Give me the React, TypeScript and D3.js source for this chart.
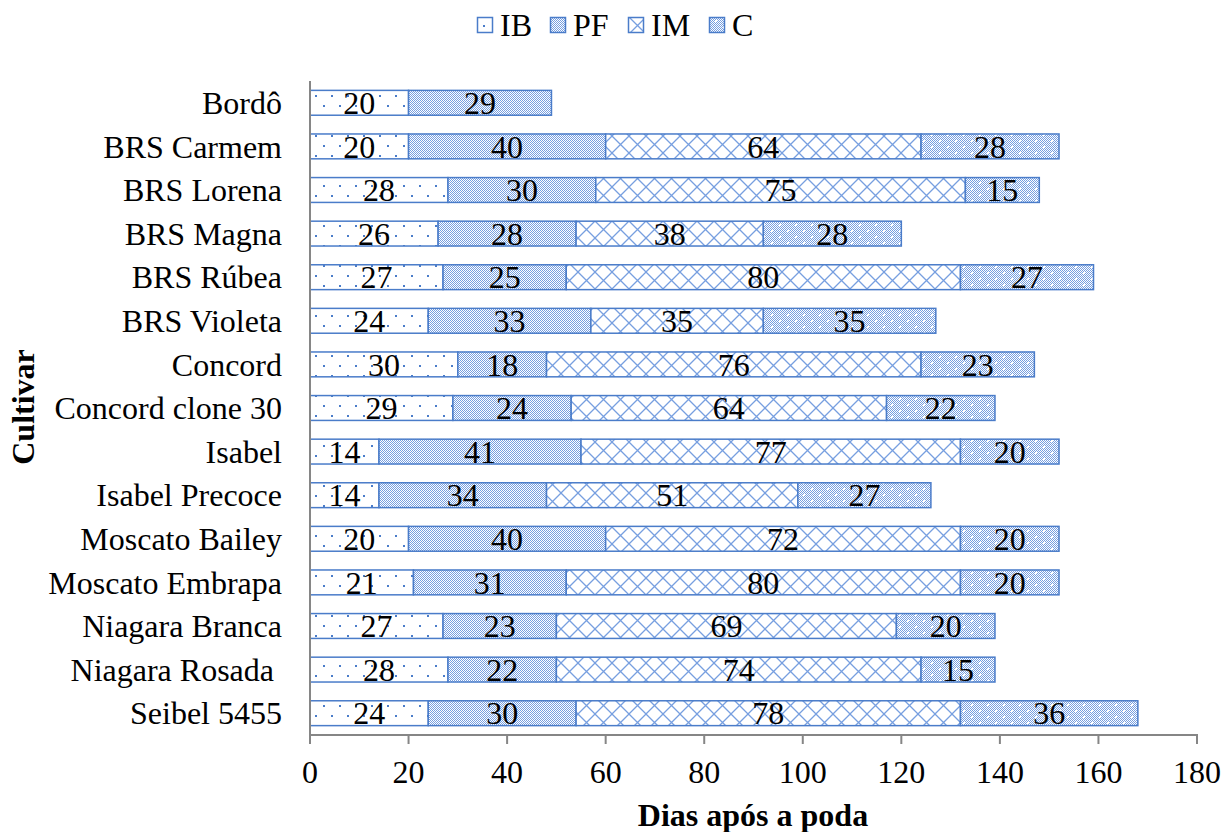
import React from "react";
import * as d3 from "d3";

const categories = [
  "Bordô", "BRS Carmem", "BRS Lorena", "BRS Magna", "BRS Rúbea", "BRS Violeta",
  "Concord", "Concord clone 30", "Isabel", "Isabel Precoce", "Moscato Bailey",
  "Moscato Embrapa", "Niagara Branca", "Niagara Rosada ", "Seibel 5455",
];
const seriesNames = ["IB", "PF", "IM", "C"];
const IB = [20, 20, 28, 26, 27, 24, 30, 29, 14, 14, 20, 21, 27, 28, 24];
const PF = [29, 40, 30, 28, 25, 33, 18, 24, 41, 34, 40, 31, 23, 22, 30];
const IM = [0, 64, 75, 38, 80, 35, 76, 64, 77, 51, 72, 80, 69, 74, 78];
const C = [0, 28, 15, 28, 27, 35, 23, 22, 20, 27, 20, 20, 20, 15, 36];
const xTicks = [0, 20, 40, 60, 80, 100, 120, 140, 160, 180];

const BLUE = "#4a7cc9";
const PBLUE = "#779fe0";
const FONT = "'Liberation Serif', 'Times New Roman', serif";

export default function App() {
  const W = 1225, H = 832;
  const x = d3.scaleLinear().domain([0, 180]).range([310, 1197]);
  const y = d3.scaleBand<string>().domain(categories).range([81, 735]).paddingInner(0.43).paddingOuter(0.215);
  const seriesData = [IB, PF, IM, C];
  const stacked = d3.stack<number>()
    .keys(seriesNames.map((_, i) => String(i)))
    .value((i, k) => seriesData[+k][i])(d3.range(categories.length));
  const patIds = ["pIB", "pPF", "pIM", "pC"];
  const legendX = [477, 550, 628, 709];

  return (
    <svg width={W} height={H} style={{ position: "absolute", left: 0, top: 0, background: "#fff" }} fontFamily={FONT}>
      <defs>
        <pattern id="pIB" patternUnits="userSpaceOnUse" width="16" height="20">
          <rect width="16" height="20" fill="#fff" />
          <rect x="3" y="5" width="2" height="2" fill={BLUE} shapeRendering="crispEdges" />
          <rect x="11" y="15" width="2" height="2" fill={BLUE} shapeRendering="crispEdges" />
        </pattern>
        <pattern id="pPF" patternUnits="userSpaceOnUse" width="2" height="2">
          <rect width="2" height="2" fill="#fff" shapeRendering="crispEdges" />
          <rect x="0" y="0" width="1" height="1" fill={PBLUE} shapeRendering="crispEdges" />
          <rect x="1" y="1" width="1" height="1" fill={PBLUE} shapeRendering="crispEdges" />
        </pattern>
        <pattern id="pIM" patternUnits="userSpaceOnUse" width="17" height="17">
          <rect width="17" height="17" fill="#fff" />
          <path d="M0,0L17,17M17,0L0,17" stroke={PBLUE} strokeWidth="1.3" />
        </pattern>
        <pattern id="pC" patternUnits="userSpaceOnUse" width="16" height="12">
          <rect width="16" height="12" fill="url(#pPF)" shapeRendering="crispEdges" />
          <rect x="3" y="2" width="2" height="2" fill="#fff" shapeRendering="crispEdges" />
          <rect x="11" y="8" width="2" height="2" fill="#fff" shapeRendering="crispEdges" />
        </pattern>
      </defs>

      {/* legend */}
      {seriesNames.map((s, i) => (
        <g key={s}>
          <rect x={legendX[i] + 0.5} y={17.5} width={15} height={15} fill={`url(#${patIds[i]})`} stroke={BLUE} strokeWidth={1.5} />
          <text x={legendX[i] + 23} y={36} fontSize={32} fill="#000">{s}</text>
        </g>
      ))}

      {/* bars */}
      {stacked.map((layer, si) => (
        <g key={si}>
          {layer.map((d, ci) => {
            const v = d[1] - d[0];
            if (v <= 0) return null;
            const x0 = x(d[0]), x1 = x(d[1]);
            const yy = y(categories[ci])!;
            return (
              <g key={ci}>
                <rect x={x0} y={yy} width={x1 - x0} height={y.bandwidth()} fill={`url(#${patIds[si]})`} stroke={BLUE} strokeWidth={1.5} />
                <text x={(x0 + x1) / 2} y={yy + y.bandwidth() / 2} dy="0.35em" textAnchor="middle" fontSize={32} fill="#000">{v}</text>
              </g>
            );
          })}
        </g>
      ))}

      {/* axes */}
      <line x1={310} x2={310} y1={81} y2={735} stroke="#868686" strokeWidth={2} />
      <line x1={309} x2={1198} y1={735} y2={735} stroke="#868686" strokeWidth={2} />
      {xTicks.map((t) => (
        <g key={t}>
          <line x1={x(t)} x2={x(t)} y1={735} y2={744} stroke="#868686" strokeWidth={2} />
          <text x={x(t)} y={783} textAnchor="middle" fontSize={32} fill="#000">{t}</text>
        </g>
      ))}
      {categories.map((c) => (
        <text key={c} x={282} y={y(c)! + y.bandwidth() / 2} dy="0.35em" textAnchor="end" fontSize={32} fill="#000" style={{ whiteSpace: "pre" }}>{c}</text>
      ))}
      <text x={753} y={826} textAnchor="middle" fontSize={32} fontWeight="bold" fill="#000">Dias após a poda</text>
      <text transform="translate(34,407) rotate(-90)" textAnchor="middle" fontSize={32} fontWeight="bold" fill="#000">Cultivar</text>
    </svg>
  );
}
